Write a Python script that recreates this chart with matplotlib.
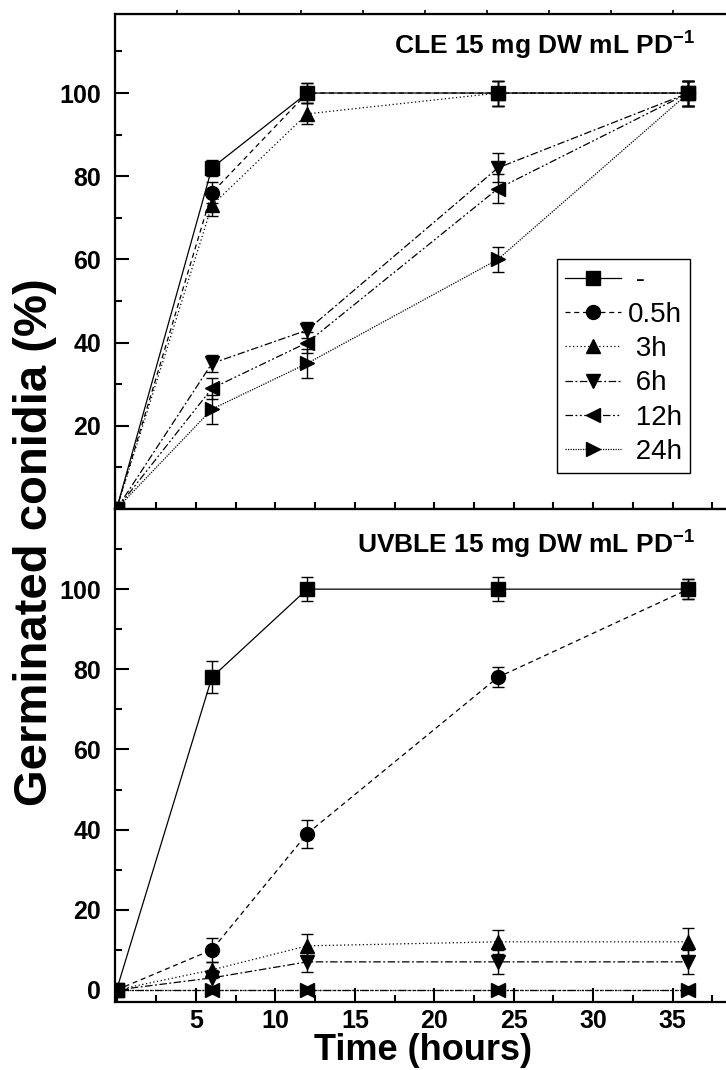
import matplotlib
matplotlib.use('Agg')
import matplotlib.pyplot as plt
from matplotlib.ticker import MultipleLocator, FixedLocator

# fonts
plt.rcParams['font.family'] = ['Liberation Sans', 'DejaVu Sans']
plt.rcParams['mathtext.fontset'] = 'custom'
plt.rcParams['mathtext.bf'] = 'Liberation Sans:bold'
plt.rcParams['mathtext.rm'] = 'Liberation Sans'
plt.rcParams['axes.unicode_minus'] = False

# data
time_h = [0, 6, 12, 24, 36]
labels = ['-', '0.5h', '3h', '6h', '12h', '24h']

cle_ctrl = [0, 82, 100, 100, 100]
cle_05h = [0, 76, 100, 100, 100]
cle_3h = [0, 73, 95, 100, 100]
cle_6h = [0, 35, 43, 82, 100]
cle_12h = [0, 29, 40, 77, 100]
cle_24h = [0, 24, 35, 60, 100]

cle_ctrl_err = [0, 2, 2.5, 3, 3]
cle_05h_err = [0, 2.5, 2.5, 3, 3]
cle_3h_err = [0, 2.5, 2.5, 3, 3]
cle_6h_err = [0, 2, 2, 3.5, 3]
cle_12h_err = [0, 2.5, 2.5, 3.5, 3]
cle_24h_err = [0, 3.5, 3.5, 3, 3]

uv_ctrl = [0, 78, 100, 100, 100]
uv_05h = [0, 10, 39, 78, 100]
uv_3h = [0, 5, 11, 12, 12]
uv_6h = [0, 3, 7, 7, 7]
uv_12h = [0, 0, 0, 0, 0]
uv_24h = [0, 0, 0, 0, 0]

uv_ctrl_err = [0, 4, 3, 3, 2.5]
uv_05h_err = [0, 3, 3.5, 2.5, 2.5]
uv_3h_err = [0, 2, 3, 3, 3.5]
uv_6h_err = [0, 2, 2.5, 3, 3]
uv_12h_err = [0, 0, 0, 0, 0]
uv_24h_err = [0, 0, 0, 0, 0]

markers = ['s', 'o', '^', 'v', '<', '>']
styles = ['-', (0, (4, 3)), (0, (1, 2)), (0, (6, 2, 1.5, 2)),
          (0, (6, 2, 1.5, 2, 1.5, 2)), (0, (1, 1))]

fig = plt.figure(figsize=(7.26, 10.7), dpi=100)
ax1 = fig.add_axes([0.1584, 0.5243, 0.8774, 0.4626])
ax2 = fig.add_axes([0.1584, 0.0636, 0.8774, 0.4607])


def draw(ax, series, errs):
    handles = []
    for i, (y, e) in enumerate(zip(series, errs)):
        ax.errorbar(time_h, y, yerr=e, fmt='none', ecolor='black',
                    elinewidth=1, capsize=4, capthick=1, zorder=2)
        h, = ax.plot(time_h, y, color='black', lw=0.9, ls=styles[i],
                     marker=markers[i], ms=10, mfc='black', mec='black',
                     zorder=3)
        handles.append(h)
    return handles


h = draw(ax1, [cle_ctrl, cle_05h, cle_3h, cle_6h, cle_12h, cle_24h],
         [cle_ctrl_err, cle_05h_err, cle_3h_err, cle_6h_err, cle_12h_err, cle_24h_err])
draw(ax2, [uv_ctrl, uv_05h, uv_3h, uv_6h, uv_12h, uv_24h],
     [uv_ctrl_err, uv_05h_err, uv_3h_err, uv_6h_err, uv_12h_err, uv_24h_err])

for ax in (ax1, ax2):
    ax.set_xlim(-0.1, 40)
    for s in ax.spines.values():
        s.set_linewidth(1.6)
    ax.xaxis.set_major_locator(MultipleLocator(5))
    ax.xaxis.set_minor_locator(MultipleLocator(2.5))
    ax.yaxis.set_minor_locator(FixedLocator(list(range(10, 120, 20))))
    ax.tick_params(axis='y', which='both', direction='in', width=1.5,
                   labelsize=18, pad=10, right=False)
    ax.tick_params(axis='y', which='major', length=10)
    ax.tick_params(axis='y', which='minor', length=5)

ax1.set_ylim(0, 119)
ax1.yaxis.set_major_locator(FixedLocator([20, 40, 60, 80, 100]))
ax1.tick_params(axis='x', which='both', direction='in', width=1.5,
                length=5, labelbottom=False, top=False)

ax2.set_ylim(-3, 120)
ax2.yaxis.set_major_locator(FixedLocator([0, 20, 40, 60, 80, 100]))
ax2.tick_params(axis='x', which='both', direction='in', width=1.5,
                labelsize=18, pad=5, top=False)
ax2.tick_params(axis='x', which='major', length=10)
ax2.tick_params(axis='x', which='minor', length=5)
ax2.set_xticks([5, 10, 15, 20, 25, 30, 35])
for ax in (ax1, ax2):
    for t in ax.get_xticklabels() + ax.get_yticklabels():
        t.set_fontweight('bold')

# small outward ticks on the top border
top = ax1.twiny()
top.set_xlim(0, 10.27)
top.set_xticks(range(1, 11))
top.tick_params(axis='x', direction='out', length=3, width=1.2,
                labeltop=False)

ax1.text(0.9105, 0.921, 'CLE 15 mg DW mL PD$^{\\mathbf{-1}}$', transform=ax1.transAxes,
         ha='right', va='baseline', fontsize=19, fontweight='bold')
ax2.text(0.9105, 0.911, 'UVBLE 15 mg DW mL PD$^{\\mathbf{-1}}$', transform=ax2.transAxes,
         ha='right', va='baseline', fontsize=19, fontweight='bold')

leg = ax1.legend(h, [' -', '0.5h', ' 3h', ' 6h', ' 12h', ' 24h'],
                 loc='upper left', bbox_to_anchor=(0.694, 0.505),
                 prop={'size': 20},
                 frameon=True, fancybox=False, edgecolor='black',
                 framealpha=1, handlelength=2.0, handletextpad=0.25,
                 labelspacing=0.3, borderpad=0.3, borderaxespad=0,
                 numpoints=1)
leg.get_frame().set_linewidth(1)

fig.text(35 / 726, 1 - 542 / 1070, 'Germinated conidia (%)', rotation=90,
         ha='center', va='center', fontsize=34, fontweight='bold')
fig.text(423 / 726, 1 - 1051 / 1070, 'Time (hours)', ha='center', va='center',
         fontsize=26, fontweight='bold')

fig.savefig('out.png', dpi=100)
